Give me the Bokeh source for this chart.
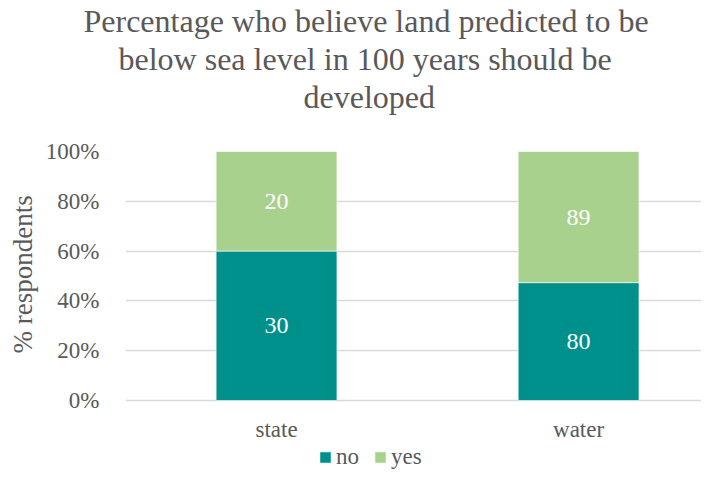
from bokeh.plotting import figure
from bokeh.models import (ColumnDataSource, Range1d, FixedTicker, NumeralTickFormatter,
                          Legend, LegendItem, Title, LabelSet)
from bokeh.embed import file_html
from bokeh.resources import INLINE

categories = ["state", "water"]
no_counts = [30, 80]
yes_counts = [20, 89]
title_lines = ["Percentage who believe land predicted to be",
               "below sea level in 100 years should be",
               "developed"]
y_label = "% respondents"

FONT = "Liberation Serif"
GRAY = "#595959"
TEAL = "#00908C"
GREEN = "#A9D18E"

xs = list(range(len(categories)))
totals = [n + y for n, y in zip(no_counts, yes_counts)]
no_pct = [n / t for n, t in zip(no_counts, totals)]
src = ColumnDataSource(dict(
    x=xs,
    no_top=no_pct,
    yes_top=[1.0] * len(xs),
    no_mid=[p / 2 for p in no_pct],
    yes_mid=[(1 + p) / 2 for p in no_pct],
    no_lbl=[str(v) for v in no_counts],
    yes_lbl=[str(v) for v in yes_counts],
))

# frame: left 125, top 151, 0% at y=400, extends to the figure bottom (483)
p = figure(width=701, height=483, output_backend="svg", toolbar_location=None,
           x_range=Range1d(-0.5, 1.407), y_range=Range1d(-83 / 249, 1.0),
           min_border_left=125, min_border_right=0, min_border_top=151, min_border_bottom=0)
p.outline_line_color = None
p.title.visible = False

# spacer between frame and the title block, then the title lines (innermost first)
p.add_layout(Title(text=" ", text_font=FONT, text_font_size="22px"), "above")
title_offsets = [-42, -7, 178]
for line, off in reversed(list(zip(title_lines, title_offsets))):
    t = Title(text=line, align="left", text_font=FONT, text_font_size="32px",
              text_color=GRAY, text_font_style="normal", offset=off, standoff=0)
    p.add_layout(t, "above")

r_no = p.vbar(x="x", bottom=0, top="no_top", width=0.4, source=src,
              fill_color=TEAL, line_color="white", line_width=0.6)
r_yes = p.vbar(x="x", bottom="no_top", top="yes_top", width=0.4, source=src,
               fill_color=GREEN, line_color="white", line_width=0.6)

for col, mid in (("no_lbl", "no_mid"), ("yes_lbl", "yes_mid")):
    p.add_layout(LabelSet(x="x", y=mid, text=col, source=src, text_align="center",
                          text_baseline="middle", text_color="white", text_font=FONT,
                          text_font_size="24px"))

p.xgrid.visible = False
p.ygrid.grid_line_color = "#D9D9D9"
p.ygrid.grid_line_width = 1.3
p.yaxis.ticker = FixedTicker(ticks=[0, 0.2, 0.4, 0.6, 0.8, 1.0])
p.yaxis.formatter = NumeralTickFormatter(format="0%")
p.xaxis.ticker = FixedTicker(ticks=xs)
p.xaxis.major_label_overrides = {i: c for i, c in zip(xs, categories)}
p.xaxis.fixed_location = 0

for ax in (p.xaxis, p.yaxis):
    ax.axis_line_color = None
    ax.major_tick_line_color = None
    ax.minor_tick_line_color = None
    ax.major_label_text_font = FONT
    ax.major_label_text_font_size = "23px"
    ax.major_label_text_color = GRAY
p.yaxis.major_label_standoff = 20
p.xaxis.major_label_standoff = 10

ylab = Title(text=y_label, align="left", offset=130, text_font=FONT,
             text_font_size="27px", text_color=GRAY, text_font_style="normal")
p.add_layout(ylab, "left")

legend = Legend(items=[LegendItem(label="no", renderers=[r_no]),
                       LegendItem(label="yes", renderers=[r_yes])],
                orientation="horizontal", location=(193, 13),
                label_text_font=FONT, label_text_font_size="23px", label_text_color=GRAY,
                glyph_width=14, glyph_height=14, spacing=14, label_standoff=4,
                border_line_color=None, background_fill_alpha=0, padding=2, margin=0)
p.add_layout(legend, "center")

open("out.html", "w").write(file_html(p, INLINE))
